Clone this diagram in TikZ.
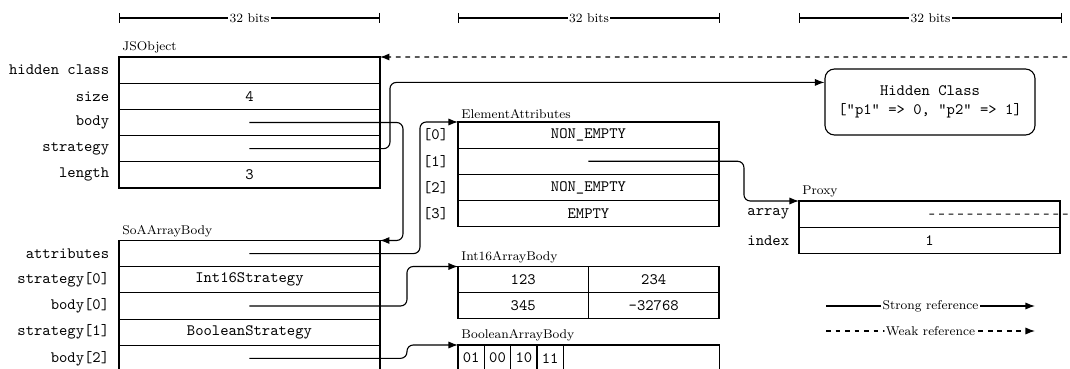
\documentclass[tikz,border=0pt]{standalone}
\usetikzlibrary{positioning,arrows.meta,calc}

\tikzset{
  cell/.style={draw,line width=0.7pt,minimum width=164.4pt,minimum height=16.5pt,
    inner sep=0pt,outer sep=0pt,font=\ttfamily},
  half/.style={cell,minimum width=82.2pt},
  bit/.style={cell,minimum width=16.6pt},
  lbl/.style={label={[rowlbl]left:#1}},
  rowlbl/.style={font=\ttfamily,inner sep=0pt,label distance=6pt},
  title/.style={font=\footnotesize,inner sep=2pt},
  hcbox/.style={draw,line width=0.7pt,rounded corners=6pt,align=center,font=\ttfamily,
    minimum width=132.3pt,minimum height=41.6pt},
  strong/.style={-{Latex[length=6pt,width=4.5pt]},line width=0.7pt,rounded corners=4pt},
  weak/.style={strong,dashed},
  dim/.style={{Bar[width=6.3pt]}-{Bar[width=6.3pt]},line width=0.7pt},
  dimlbl/.style={font=\footnotesize,fill=white,inner sep=1pt}
}

\begin{document}
\begin{tikzpicture}[x=0.63pt,y=-0.63pt]
\useasboundingbox (0,0) rectangle (1070,369);

% widths
\coordinate (d1a) at (119,18);  \coordinate (d1b) at (380,18);
\coordinate (d2a) at (458,18);  \coordinate (d2b) at (720,18);
\coordinate (d3a) at (799,18);  \coordinate (d3b) at (1062,18);
\draw[dim] (d1a) -- node[dimlbl] {32 bits} (d1b);
\draw[dim] (d2a) -- node[dimlbl] {32 bits} (d2b);
\draw[dim] (d3a) -- node[dimlbl] {32 bits} (d3b);

% JSObject
\node[cell,anchor=north west,lbl=hidden class] (js1) at (119,57) {};
\node[cell,below=0pt of js1,lbl=size] (js2) {4};
\node[cell,below=0pt of js2,lbl=body] (js3) {};
\node[cell,below=0pt of js3,lbl=strategy] (js4) {};
\node[cell,below=0pt of js4,lbl=length] (js5) {3};
\node[title,above right=0pt of js1.north west] (jsT) {JSObject};

% SoAArrayBody
\node[cell,anchor=north west,lbl=attributes] (soa1) at (119,240.5) {};
\node[cell,below=0pt of soa1,lbl={strategy[0]}] (soa2) {Int16Strategy};
\node[cell,below=0pt of soa2,lbl={body[0]}] (soa3) {};
\node[cell,below=0pt of soa3,lbl={strategy[1]}] (soa4) {BooleanStrategy};
\node[cell,below=0pt of soa4,lbl={body[2]}] (soa5) {};
\node[title,above right=0pt of soa1.north west] (soaT) {SoAArrayBody};

% ElementAttributes
\node[cell,anchor=north west,lbl={[0]}] (ea1) at (458,122) {NON\_EMPTY};
\node[cell,below=0pt of ea1,lbl={[1]}] (ea2) {};
\node[cell,below=0pt of ea2,lbl={[2]}] (ea3) {NON\_EMPTY};
\node[cell,below=0pt of ea3,lbl={[3]}] (ea4) {EMPTY};
\node[title,above right=0pt of ea1.north west] (eaT) {ElementAttributes};

% Int16ArrayBody
\node[half,anchor=north west] (i11) at (458,266.5) {123};
\node[half,right=0pt of i11] (i12) {234};
\node[half,below=0pt of i11] (i21) {345};
\node[half,right=0pt of i21] (i22) {-32768};
\node[title,above right=0pt of i11.north west] (i16T) {Int16ArrayBody};

% BooleanArrayBody
\node[bit,anchor=north west] (b1) at (458,345) {01};
\node[bit,right=0pt of b1] (b2) {00};
\node[bit,right=0pt of b2] (b3) {10};
\node[bit,right=0pt of b3] (b4) {11};
\node[cell,minimum width=98.5pt,right=0pt of b4] (b5) {};
\node[title,above right=0pt of b1.north west] (boolT) {BooleanArrayBody};

% Proxy
\node[cell,anchor=north west,lbl=array] (px1) at (799,201) {};
\node[cell,below=0pt of px1,lbl=index] (px2) {1};
\node[title,above right=0pt of px1.north west] (pxT) {Proxy};

% hidden class
\node[hcbox] (hc) at (930,102) {Hidden Class\\{}["p1" => 0, "p2" => 1]};
\coordinate (hcin) at ($(hc.north west)+(0,14)$);

% references
\draw[strong] (js3.center) -- ($(js3.east)+(23,0)$) |- (soa1.north east);
\draw[strong] (js4.center) -- ($(js4.east)+(10,0)$) |- (hcin);
\draw[strong] (soa1.center) -- ($(soa1.east)+(40,0)$) |- (ea1.north west);
\draw[strong] (ea2.center) -- ($(ea2.east)+(25,0)$) |- (px1.north west);
\draw[strong] (soa3.center) -- ($(soa3.east)+(27,0)$) |- (i11.north west);
\draw[strong] (soa5.center) -- ($(soa5.east)+(27,0)$) |- (b1.north west);
\draw[weak] (px1.center) -- ($(px1.east)+(15,0)$) |- (js1.north east);

% legend
\coordinate (la) at (826,306);  \coordinate (lb) at (1035,306);
\coordinate (lc) at (826,331);  \coordinate (ld) at (1035,331);
\draw[strong] (la) -- node[dimlbl] {Strong reference} (lb);
\draw[weak] (lc) -- node[dimlbl] {Weak reference} (ld);
\end{tikzpicture}
\end{document}
